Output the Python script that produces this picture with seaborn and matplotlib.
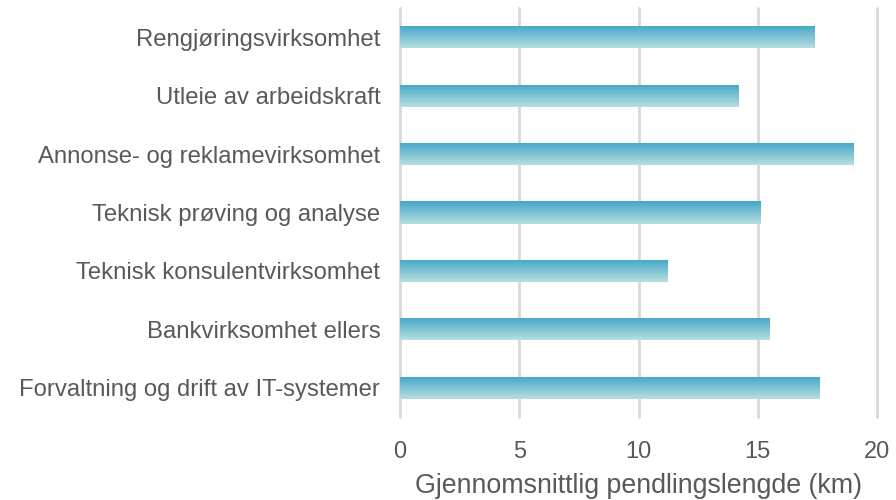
import numpy as np
import pandas as pd
import matplotlib
matplotlib.use("Agg")
import matplotlib.pyplot as plt
import seaborn as sns
from matplotlib.colors import LinearSegmentedColormap

categories = [
    "Rengjøringsvirksomhet",
    "Utleie av arbeidskraft",
    "Annonse- og reklamevirksomhet",
    "Teknisk prøving og analyse",
    "Teknisk konsulentvirksomhet",
    "Bankvirksomhet ellers",
    "Forvaltning og drift av IT-systemer",
]
values = [17.4, 14.2, 19.0, 15.1, 11.2, 15.5, 17.6]
xticks = [0, 5, 10, 15, 20]
xlabel = "Gjennomsnittlig pendlingslengde (km)"

sns.set_theme(style="white")
plt.rcParams["font.family"] = ["Liberation Sans", "DejaVu Sans"]

text_color = "#595959"
df = pd.DataFrame({"cat": categories, "val": values})

fig = plt.figure(figsize=(8.96, 5.0), dpi=100)
ax = fig.add_axes([400 / 896, 1 - 417 / 500, 477 / 896, 409 / 500])

sns.barplot(data=df, y="cat", x="val", orient="h", width=0.38, ax=ax,
            color="#45A9C8", saturation=1)

cmap = LinearSegmentedColormap.from_list("g", ["#42A7C7", "#B8DEE0"])
grad = np.linspace(0, 1, 256).reshape(-1, 1)
for p in ax.patches:
    x0, y0 = p.get_x(), p.get_y()
    w, h = p.get_width(), p.get_height()
    im = ax.imshow(grad, extent=[x0, x0 + w, y0 + h, y0], aspect="auto",
                   cmap=cmap, origin="upper", zorder=3)
    im.set_clip_path(p)
    p.set_facecolor("none")
    p.set_edgecolor("none")

ax.set_xlim(0, 20)
ax.set_ylim(len(categories) - 0.5, -0.5)
ax.set_xticks(xticks)
ax.set_xticklabels([str(t) for t in xticks])
ax.xaxis.grid(True, color="#D9D9D9", linewidth=2)
for gl in ax.get_xgridlines():
    gl.set_clip_on(False)
ax.set_axisbelow(True)
for s in ax.spines.values():
    s.set_visible(False)
ax.tick_params(axis="x", length=0, pad=17.5, labelsize=17, labelcolor=text_color)
ax.tick_params(axis="y", length=0, pad=14.2, labelsize=17.2, labelcolor=text_color)
ax.set_ylabel("")
ax.set_xlabel(xlabel, fontsize=19.3, color=text_color, labelpad=7)

fig.savefig("out.png", dpi=100)
